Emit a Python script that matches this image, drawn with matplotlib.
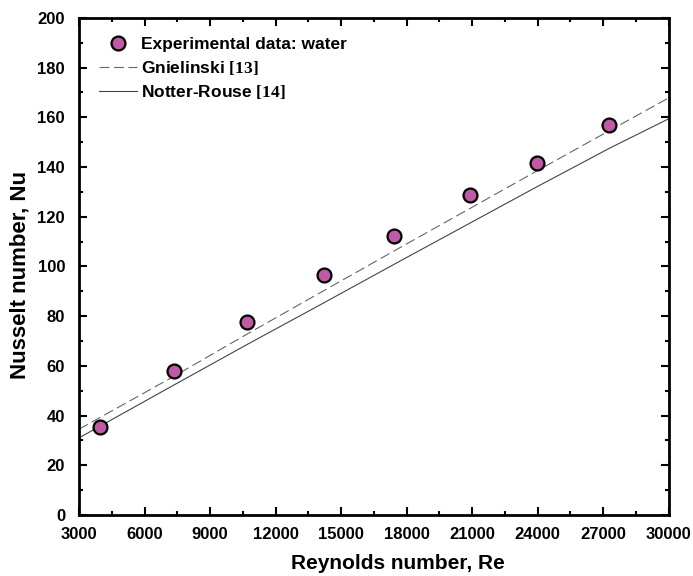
import numpy as np
import matplotlib.pyplot as plt
from matplotlib.ticker import MultipleLocator

plt.rcParams["font.family"] = ["Liberation Sans", "DejaVu Sans"]
plt.rcParams["font.weight"] = "bold"
plt.rcParams["mathtext.fontset"] = "custom"
plt.rcParams["mathtext.rm"] = "Liberation Serif"

# Experimental data: water
re_exp = [3950, 7330, 10700, 14220, 17400, 20920, 23950, 27260]
nu_exp = [35.5, 58.0, 77.6, 96.6, 112.3, 128.7, 141.6, 156.9]

# Correlation curves
re_line = [3000, 7350, 10700, 14200, 17500, 21000, 24000, 27300, 30000]
nu_gnielinski = [34.5, 55.8, 72.8, 90.2, 106.6, 123.8, 138.6, 154.7, 167.8]
nu_notter = [31.0, 52.3, 68.6, 85.3, 101.2, 117.9, 132.2, 147.6, 159.4]

fig = plt.figure(figsize=(6.93, 5.76), dpi=100)
ax = fig.add_axes([0.114, 0.106, 0.851, 0.863])

ax.plot(re_exp, nu_exp, "o", ms=10, mfc="#c05aa6", mec="black", mew=1.6,
        label="Experimental data: water", zorder=3)
ax.plot(re_line, nu_gnielinski, color="#666666", lw=0.8, dashes=(9, 4),
        label=r"Gnielinski $\mathrm{[13]}$")
ax.plot(re_line, nu_notter, color="#444444", lw=0.8,
        label=r"Notter-Rouse $\mathrm{[14]}$")

ax.set_xlim(3000, 30000)
ax.set_ylim(0, 200)
ax.xaxis.set_major_locator(MultipleLocator(3000))
ax.xaxis.set_minor_locator(MultipleLocator(1500))
ax.yaxis.set_major_locator(MultipleLocator(20))
ax.yaxis.set_minor_locator(MultipleLocator(10))
ax.tick_params(which="both", direction="in", top=True, right=True,
               labelsize=12, width=1.5)
ax.tick_params(which="major", length=6)
ax.tick_params(which="minor", length=3)
ax.tick_params(axis="x", pad=9)
ax.tick_params(axis="y", pad=10)
for s in ax.spines.values():
    s.set_linewidth(2)

ax.set_xlabel("Reynolds number, Re", fontsize=15, fontweight="bold")
ax.xaxis.set_label_coords(0.54, -0.078)
ax.set_ylabel("Nusselt number, Nu", fontsize=16, fontweight="bold")
ax.yaxis.set_label_coords(-0.082, 0.483)

ax.legend(loc="upper left", frameon=False, fontsize=12.5, handlelength=2.2,
          handletextpad=0.25, labelspacing=0.38, borderaxespad=0.9,
          bbox_to_anchor=(-0.005, 1.007))

plt.savefig("out.png", dpi=100)
